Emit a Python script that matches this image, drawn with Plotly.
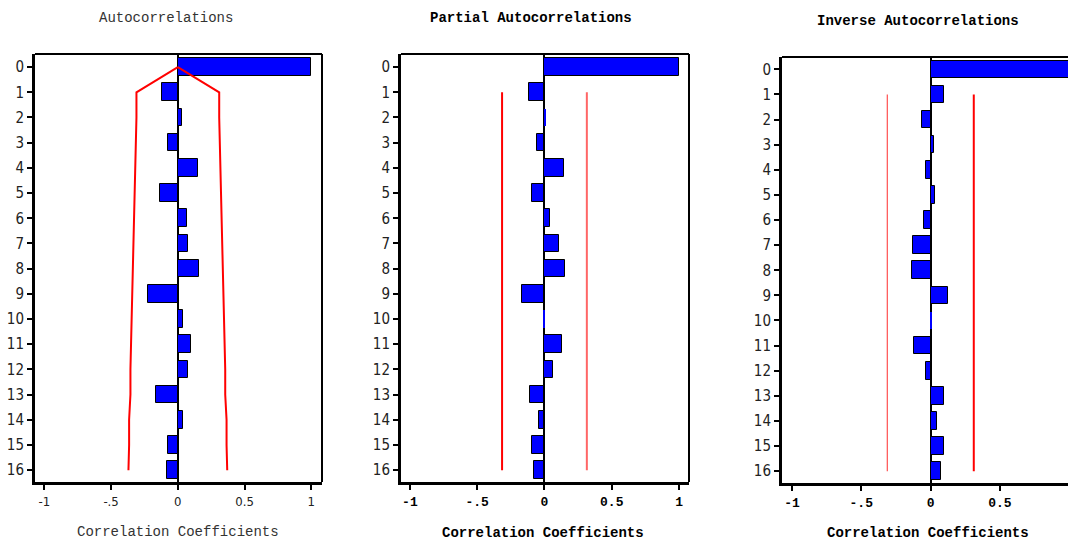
import plotly.graph_objects as go

W, H = 1068, 542

lags = list(range(17))
lag_labels = [str(l) for l in lags]

acf = [1.0, -0.12, 0.03, -0.07, 0.15, -0.13, 0.065, 0.075, 0.16, -0.22,
       0.04, 0.10, 0.075, -0.16, 0.04, -0.07, -0.08]
acf_limit = [0.0, 0.31, 0.31, 0.315, 0.32, 0.325, 0.33, 0.33, 0.335, 0.34,
             0.35, 0.355, 0.355, 0.355, 0.365, 0.365, 0.37]

pacf = [1.0, -0.115, 0.012, -0.055, 0.146, -0.09, 0.042, 0.11, 0.154, -0.166,
        -0.01, 0.13, 0.06, -0.106, -0.037, -0.09, -0.08]
pacf_limit = 0.315

iacf = [1.0, 0.098, -0.06, 0.024, -0.03, 0.031, -0.046, -0.128, -0.137, 0.125,
        0.004, -0.12, -0.036, 0.098, 0.05, 0.098, 0.074]
iacf_limit = 0.312

xtick_vals = [-1, -0.5, 0, 0.5, 1]
xtick_text = ["-1", "-.5", "0", "0.5", "1"]

titles = ["Autocorrelations", "Partial Autocorrelations", "Inverse Autocorrelations"]
xtitle = "Correlation Coefficients"

# pixel geometry of the three panels: (left, right, top, bottom)
boxes = [(35, 322, 54, 482), (401, 689, 54, 482), (782, 1068, 57, 483)]
xranges = [[-1.07, 1.08], [-1.066, 1.074], [-1.072, 0.992]]
yranges = [[16.47, -0.52], [16.47, -0.52], [16.47, -0.49]]

thin_font = "Liberation Mono, DejaVu Sans Mono, monospace"
narrow_font = "Liberation Sans Narrow, DejaVu Sans Condensed, Liberation Sans, sans-serif"

fig = go.Figure()

series = [acf, pacf, iacf]
for i, vals in enumerate(series):
    xa = "x" if i == 0 else f"x{i+1}"
    ya = "y" if i == 0 else f"y{i+1}"
    lw = [0 if abs(v) < 0.02 else 1 for v in vals]
    fig.add_trace(go.Bar(
        x=vals, y=lags, orientation="h", width=0.7,
        marker=dict(color="#0000ff", line=dict(color="black", width=lw)),
        xaxis=xa, yaxis=ya, showlegend=False, hoverinfo="x+y"))

# confidence limits
fig.add_trace(go.Scatter(x=[-v for v in acf_limit], y=lags, mode="lines",
                         line=dict(color="red", width=2), xaxis="x", yaxis="y",
                         showlegend=False))
fig.add_trace(go.Scatter(x=acf_limit, y=lags, mode="lines",
                         line=dict(color="red", width=2), xaxis="x", yaxis="y",
                         showlegend=False))
fig.add_trace(go.Scatter(x=[-pacf_limit] * 16, y=lags[1:], mode="lines",
                         line=dict(color="#ff0000", width=2), xaxis="x2", yaxis="y2",
                         showlegend=False))
fig.add_trace(go.Scatter(x=[pacf_limit] * 16, y=lags[1:], mode="lines",
                         line=dict(color="#ff6666", width=2), xaxis="x2", yaxis="y2",
                         showlegend=False))
fig.add_trace(go.Scatter(x=[-iacf_limit] * 16, y=lags[1:], mode="lines",
                         line=dict(color="#ff5050", width=1.2), xaxis="x3", yaxis="y3",
                         showlegend=False))
fig.add_trace(go.Scatter(x=[iacf_limit] * 16, y=lags[1:], mode="lines",
                         line=dict(color="#ff0000", width=2), xaxis="x3", yaxis="y3",
                         showlegend=False))

layout = dict(width=W, height=H, margin=dict(l=0, r=0, t=0, b=0),
              plot_bgcolor="white", paper_bgcolor="white", bargap=0)

shapes = []
annotations = []
for i, (l, r, t, b) in enumerate(boxes):
    sfx = "" if i == 0 else str(i + 1)
    tick_font = dict(family=narrow_font, size=13, color="#222") if i == 0 else \
        dict(family=thin_font, size=13, color="black", weight="bold")
    layout["xaxis" + sfx] = dict(
        domain=[l / W, r / W], range=xranges[i], anchor="y" + sfx,
        tickvals=xtick_vals, ticktext=xtick_text, ticks="outside", ticklen=5,
        tickwidth=2, tickcolor="black", showgrid=False,
        zeroline=True, zerolinecolor="black", zerolinewidth=2,
        showline=True, linecolor="black", linewidth=3,
        tickfont=tick_font, fixedrange=True)
    layout["yaxis" + sfx] = dict(
        domain=[(H - b) / H, (H - t) / H], range=yranges[i], anchor="x" + sfx,
        tickvals=lags, ticktext=lag_labels, ticks="outside", ticklen=5,
        tickwidth=2, tickcolor="black", showgrid=False, zeroline=False,
        showline=True, linecolor="black", linewidth=3,
        tickfont=dict(family=narrow_font, size=15, color="#222"), fixedrange=True)
    # top and right frame lines
    shapes.append(dict(type="line", xref=f"x{sfx} domain", yref=f"y{sfx} domain",
                       x0=0, x1=1, y0=1, y1=1, line=dict(color="black", width=2)))
    if i < 2:
        shapes.append(dict(type="line", xref=f"x{sfx} domain", yref=f"y{sfx} domain",
                           x0=1, x1=1, y0=0, y1=1, line=dict(color="black", width=2)))
    if i == 0:
        tf = dict(family=thin_font, size=14, color="#333")
    else:
        tf = dict(family=thin_font, size=14, color="black", weight="bold")
    cx = [166, 531, 918][i]
    annotations.append(dict(text=titles[i], x=cx / W, y=(H - [18, 18, 21][i]) / H,
                            xref="paper", yref="paper", showarrow=False, font=tf,
                            xanchor="center", yanchor="middle"))
    cx2 = [178, 543, 928][i]
    annotations.append(dict(text=xtitle, x=cx2 / W, y=(H - [532, 533, 533][i]) / H,
                            xref="paper", yref="paper", showarrow=False, font=tf,
                            xanchor="center", yanchor="middle"))

layout["shapes"] = shapes
layout["annotations"] = annotations
fig.update_layout(**layout)

fig.write_html("out.html", config={"displayModeBar": False},
               post_script="document.body.style.margin='0';document.body.style.padding='0';")
